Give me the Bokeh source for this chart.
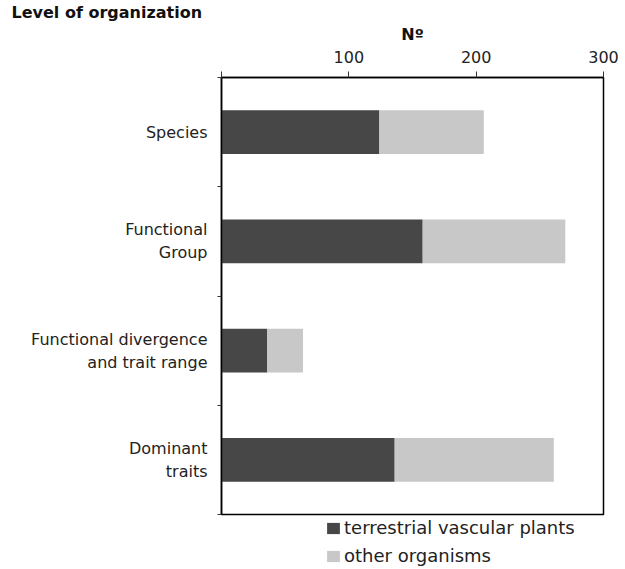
from bokeh.plotting import figure
from bokeh.models import (Range1d, FixedTicker, Legend, LegendItem,
                          ColumnDataSource)
from bokeh.embed import file_html
from bokeh.resources import INLINE

# ---- data ----
categories = ["Species", "Functional\nGroup",
              "Functional divergence\nand trait range", "Dominant\ntraits"]
terrestrial_vascular_plants = [124, 158, 36, 136]
other_organisms = [82, 112, 28, 125]
x_ticks = [0, 100, 200, 300]
x_tick_labels = ["", "100", "200", "300"]

DARK = "#474747"
LIGHT = "#c8c8c8"
FONT = "DejaVu Sans"

n = len(categories)
centers = [i + 0.5 for i in range(n)]
bounds = [float(i) for i in range(n + 1)]
totals = [a + b for a, b in zip(terrestrial_vascular_plants, other_organisms)]

src = ColumnDataSource(dict(y=centers, tvp=terrestrial_vascular_plants,
                            tot=totals))

p = figure(frame_width=382, frame_height=437, output_backend="svg",
           toolbar_location=None,
           x_range=Range1d(0, 300), y_range=Range1d(n, 0),
           x_axis_location="above",
           min_border_left=221, min_border_right=20,
           min_border_top=77, min_border_bottom=55)
p.background_fill_color = "white"
p.border_fill_color = "white"
p.outline_line_color = "black"
p.outline_line_width = 1.5
p.xgrid.visible = False
p.ygrid.visible = False

p.title.text = "Level of organization"
p.title.align = "left"
p.title.offset = -210
p.title.standoff = 0
p.title.text_font = FONT
p.title.text_font_style = "bold"
p.title.text_font_size = "16px"
p.title.text_color = "#111111"

r1 = p.hbar(y="y", left=0, right="tvp", height=0.4, source=src,
            fill_color=DARK, line_color=None)
r2 = p.hbar(y="y", left="tvp", right="tot", height=0.4, source=src,
            fill_color=LIGHT, line_color=None)

# top x axis
xa = p.xaxis[0]
xa.ticker = FixedTicker(ticks=x_ticks)
xa.major_label_overrides = {t: l for t, l in zip(x_ticks, x_tick_labels)}
xa.axis_label = "Nº"
xa.axis_label_text_font = FONT
xa.axis_label_text_font_style = "bold"
xa.axis_label_text_font_size = "16px"
xa.axis_label_text_color = "#111111"
xa.axis_label_standoff = 4
xa.major_label_text_font = FONT
xa.major_label_text_font_size = "16px"
xa.major_label_text_color = "#222222"
xa.major_label_standoff = 9
xa.major_tick_out = 6
xa.major_tick_in = 0
xa.minor_tick_out = 0
xa.minor_tick_in = 0
xa.axis_line_color = "black"
xa.axis_line_width = 1.5
xa.major_tick_line_color = "#333333"

# left y axis: labels at band centres, ticks at band boundaries
ya = p.yaxis[0]
ya.ticker = FixedTicker(ticks=centers, minor_ticks=bounds)
ya.major_label_overrides = {c: lab for c, lab in zip(centers, categories)}
ya.major_label_text_font = FONT
ya.major_label_text_font_size = "16px"
ya.major_label_text_color = "#222222"
ya.major_label_standoff = 10
ya.major_tick_out = 0
ya.major_tick_in = 0
ya.minor_tick_out = 4
ya.minor_tick_in = 0
ya.minor_tick_line_color = "#333333"
ya.axis_line_color = "black"
ya.axis_line_width = 1.5

legend = Legend(items=[LegendItem(label="terrestrial vascular plants", renderers=[r1]),
                       LegendItem(label="other organisms", renderers=[r2])],
                location="top_right", orientation="vertical",
                label_text_font=FONT, label_text_font_size="18px",
                label_text_color="#222222",
                glyph_width=16, glyph_height=14, label_standoff=3,
                label_width=259, label_height=27, spacing=1,
                padding=0, margin=0,
                border_line_color=None, background_fill_alpha=0)
p.add_layout(legend, "below")

open("out.html", "w").write(file_html(p, INLINE))
